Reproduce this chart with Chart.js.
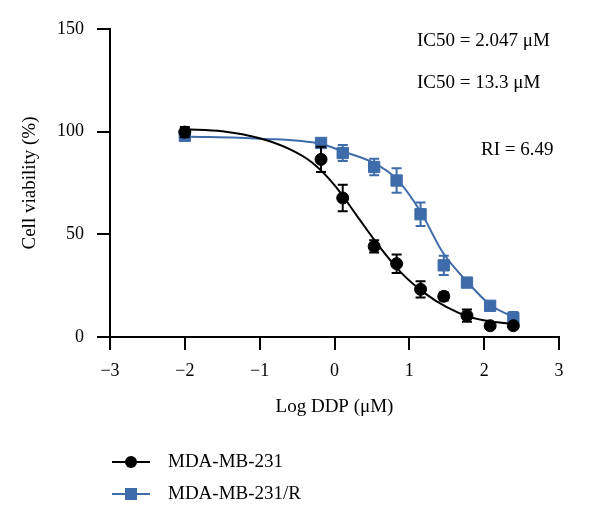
<!DOCTYPE html>
<html>
<head>
<meta charset="utf-8">
<script src="https://cdn.jsdelivr.net/npm/chart.js@4/dist/chart.umd.min.js"></script>
<style>
  body { margin: 0; background: #fff; }
  canvas { display: block; }
</style>
</head>
<body>
<canvas id="chart" width="600" height="523"></canvas>
<script>
// Data
const logDose = [-2, -0.18, 0.11, 0.53, 0.83, 1.15, 1.46, 1.77, 2.08, 2.39];
const parentViability = [99.8, 86.5, 67.7, 44.1, 35.7, 23.2, 19.8, 10.4, 5.5, 5.5];
const parentError = [2.5, 6.2, 6.5, 3, 4.5, 4, 2, 3, 1, 1];
const resistViability = [98, 94.5, 89.6, 82.8, 76.2, 59.8, 34.9, 26.5, 15.2, 9.2];
const resistError = [2, 2, 3.9, 4, 6, 5.7, 4.7, 2, 1.5, 3];

// fitted curves
const parentFitX = [-2, -1.5, -1, -0.6, -0.3, 0, 0.3, 0.6, 0.9, 1.2, 1.5, 1.8, 2.1, 2.39];
const parentFitY = [101.2, 100.2, 96.8, 91.5, 85, 74, 59, 44, 31, 21.5, 14.5, 9.8, 7.5, 6.3];
const resistFitX = [-2, -1, -0.18, 0.11, 0.53, 0.83, 1.15, 1.45, 1.77, 2.08, 2.39];
const resistFitY = [97.7, 96.6, 94, 90.4, 84.7, 77, 61, 41, 27, 15.7, 9.7];

const seriesNames = ['MDA-MB-231', 'MDA-MB-231/R'];
const notes = ['IC50 = 2.047 \u03bcM', 'IC50 = 13.3 \u03bcM', 'RI = 6.49'];
const xTicks = [-3, -2, -1, 0, 1, 2, 3];
const yTicks = [0, 50, 100, 150];

const BLUE = '#3e6ba9';
const FONT = "'Liberation Serif', 'DejaVu Serif', serif";

const pts = (xs, ys) => xs.map((x, i) => ({ x, y: ys[i] }));

// error bars drawn just before each point dataset
const errorBars = {
  id: 'errorBars',
  beforeDatasetDraw(chart, args) {
    const ds = chart.data.datasets[args.index];
    if (!ds.errors) return;
    const { ctx, scales: { x, y } } = chart;
    ctx.save();
    ctx.strokeStyle = ds.borderColor;
    ctx.lineWidth = 2;
    ds.data.forEach((p, i) => {
      const e = ds.errors[i];
      const px = x.getPixelForValue(p.x);
      const top = y.getPixelForValue(p.y + e);
      const bot = y.getPixelForValue(p.y - e);
      ctx.beginPath();
      ctx.moveTo(px, top); ctx.lineTo(px, bot);
      ctx.moveTo(px - 5, top); ctx.lineTo(px + 5, top);
      ctx.moveTo(px - 5, bot); ctx.lineTo(px + 5, bot);
      ctx.stroke();
    });
    ctx.restore();
  }
};

// legend under the axis + text notes top right
const extras = {
  id: 'extras',
  afterDraw(chart) {
    const ctx = chart.ctx;
    ctx.save();
    ctx.font = '19px ' + FONT;
    ctx.fillStyle = '#000';
    ctx.textBaseline = 'middle';
    ctx.textAlign = 'left';
    ctx.fillText(notes[0], 417, 41);
    ctx.fillText(notes[1], 417, 83);
    ctx.fillText(notes[2], 481, 150);

    const rows = [
      { y: 462, color: '#000', shape: 'circle' },
      { y: 494, color: BLUE, shape: 'rect' }
    ];
    rows.forEach((r, i) => {
      ctx.strokeStyle = r.color;
      ctx.fillStyle = r.color;
      ctx.lineWidth = 2;
      ctx.beginPath();
      ctx.moveTo(112, r.y); ctx.lineTo(150, r.y);
      ctx.stroke();
      if (r.shape === 'circle') {
        ctx.beginPath();
        ctx.arc(131, r.y, 6, 0, Math.PI * 2);
        ctx.fill();
      } else {
        ctx.fillRect(125, r.y - 6, 12, 12);
      }
      ctx.fillStyle = '#000';
      ctx.fillText(seriesNames[i], 168, r.y);
    });
    ctx.restore();
  }
};

new Chart(document.getElementById('chart'), {
  type: 'scatter',
  data: {
    datasets: [
      {
        label: seriesNames[0],
        data: pts(logDose, parentViability),
        errors: parentError,
        borderColor: '#000', backgroundColor: '#000',
        pointStyle: 'circle', pointRadius: 6, showLine: false
      },
      {
        label: seriesNames[0] + ' fit',
        data: pts(parentFitX, parentFitY),
        borderColor: '#000', borderWidth: 2,
        pointRadius: 0, showLine: true, cubicInterpolationMode: 'monotone'
      },
      {
        label: seriesNames[1],
        data: pts(logDose, resistViability),
        errors: resistError,
        borderColor: BLUE, backgroundColor: BLUE,
        pointStyle: 'rect', pointRadius: 8, showLine: false
      },
      {
        label: seriesNames[1] + ' fit',
        data: pts(resistFitX, resistFitY),
        borderColor: BLUE, borderWidth: 2,
        pointRadius: 0, showLine: true, cubicInterpolationMode: 'monotone'
      }
    ]
  },
  options: {
    responsive: false,
    animation: false,
    devicePixelRatio: 1,
    layout: { padding: { left: 0, top: 29, right: 41, bottom: 96 } },
    plugins: { legend: { display: false }, tooltip: { enabled: false } },
    scales: {
      x: {
        type: 'linear', min: -3, max: 3,
        afterBuildTicks: s => { s.ticks = xTicks.map(v => ({ value: v })); },
        afterFit: s => { s.height = 90; },
        grid: { drawOnChartArea: false, tickLength: 13, lineWidth: 2, color: '#000' },
        border: { color: '#000', width: 2 },
        ticks: {
          color: '#000', padding: 10, font: { family: FONT, size: 18 },
          callback: v => (v < 0 ? '\u2212' + Math.abs(v) : String(v))
        },
        title: {
          display: true, text: 'Log DDP (\u03bcM)', color: '#000',
          font: { family: FONT, size: 19 }, padding: { top: 0, bottom: 9 }
        }
      },
      y: {
        type: 'linear', min: 0, max: 150,
        afterBuildTicks: s => { s.ticks = yTicks.map(v => ({ value: v })); },
        afterFit: s => { s.width = 110; },
        grid: { drawOnChartArea: false, tickLength: 13, lineWidth: 2, color: '#000' },
        border: { color: '#000', width: 2 },
        ticks: { color: '#000', padding: 13, font: { family: FONT, size: 18 } },
        title: {
          display: true, text: 'Cell viability (%)', color: '#000',
          font: { family: FONT, size: 19 }, padding: { top: 19, bottom: 0 }
        }
      }
    }
  },
  plugins: [errorBars, extras]
});
</script>
</body>
</html>
